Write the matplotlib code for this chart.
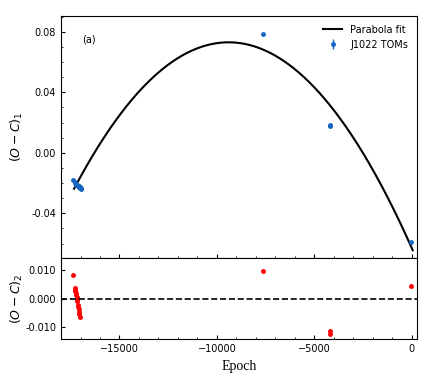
import numpy as np
import matplotlib
matplotlib.use("Agg")
import matplotlib.pyplot as plt
from matplotlib.ticker import MultipleLocator

# O-C data
epoch = [-17370, -17300, -17280, -17250, -17220, -17200, -17180, -17150,
         -17120, -17100, -17080, -17050, -17020, -16980, -16950,
         -7633, -4194, -4180, -36]
oc1 = [-0.0177, -0.0195, -0.0200, -0.0205, -0.0210, -0.0212, -0.0215, -0.0218,
       -0.0220, -0.0222, -0.0225, -0.0228, -0.0232, -0.0236, -0.0240,
       0.0785, 0.0178, 0.0185, -0.0589]
oc1_err = [0.0008] * len(epoch)

# residuals after the parabola
ep_res = [-17370, -17300, -17280, -17260, -17240, -17220, -17200, -17180,
          -17160, -17140, -17120, -17100, -17080, -17060, -17040,
          -7633, -4194, -4180, -36]
res = [0.0081, 0.0036, 0.0031, 0.0026, 0.0020, 0.0014, 0.0006, 0.0,
       -0.0010, -0.0022, -0.0030, -0.0038, -0.0046, -0.0054, -0.0065,
       0.0097, -0.0115, -0.0125, 0.0043]

# parabola: peak epoch, peak value, curvature
E0 = -9400
c0 = 0.0731
a2 = -1.54e-9
fit_range = [-17330, 50]

fig, (ax1, ax2) = plt.subplots(2, 1, sharex=True, figsize=(4.36, 3.81), dpi=100,
                               gridspec_kw={"height_ratios": [3, 1], "hspace": 0})
fig.subplots_adjust(left=0.14, right=0.956, top=0.958, bottom=0.11)

E = np.linspace(fit_range[0], fit_range[1], 400)
ax1.plot(E, c0 + a2 * (E - E0) ** 2, color="black", lw=1.5, label="Parabola fit")
ax1.errorbar(epoch, oc1, yerr=oc1_err, fmt="o", ms=2.5, color="#1565c0",
             elinewidth=1, capsize=0, label="J1022 TOMs")
ax1.set_ylim(-0.0698, 0.0905)
ax1.yaxis.set_major_locator(MultipleLocator(0.04))
ax1.yaxis.set_minor_locator(MultipleLocator(0.01))
ax1.yaxis.set_major_formatter(plt.FormatStrFormatter("%.2f"))
ax1.set_ylabel(r"$(O-C)_1$", fontsize=9, labelpad=0)
ax1.text(0.06, 0.89, "(a)", transform=ax1.transAxes, fontsize=7)
ax1.legend(loc="upper right", frameon=False, fontsize=7, handlelength=2)

ax2.plot(ep_res, res, "o", ms=2.5, color="red")
ax2.axhline(0, color="black", ls="--", lw=1.2)
ax2.set_ylim(-0.0142, 0.0141)
ax2.yaxis.set_major_locator(MultipleLocator(0.01))
ax2.yaxis.set_major_formatter(plt.FormatStrFormatter("%.3f"))
ax2.set_ylabel(r"$(O-C)_2$", fontsize=9, labelpad=0)
ax2.set_xlim(-18000, 260)
ax2.xaxis.set_major_locator(MultipleLocator(5000))
ax2.xaxis.set_minor_locator(MultipleLocator(1000))
ax2.set_xlabel("Epoch", fontsize=10, family="Liberation Serif")

for ax in (ax1, ax2):
    ax.tick_params(which="both", direction="in", labelsize=7, top=False, right=False)
    ax.tick_params(which="major", length=3)
    ax.tick_params(which="minor", length=1.5)

fig.align_ylabels([ax1, ax2])
fig.savefig("out.png", dpi=100)
